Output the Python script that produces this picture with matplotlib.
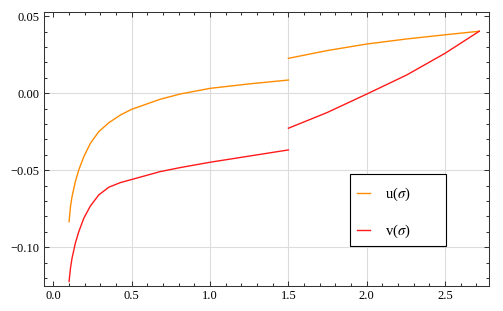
import matplotlib.pyplot as plt
from matplotlib.ticker import MultipleLocator
from matplotlib.patches import Rectangle

plt.rcParams['font.family'] = ['Liberation Serif', 'DejaVu Serif']
plt.rcParams['mathtext.fontset'] = 'stix'

# values
u_left_x = [0.1, 0.109, 0.119, 0.140, 0.162, 0.194, 0.236, 0.29, 0.354, 0.428, 0.5,
            0.681, 0.808, 1.0, 1.25, 1.5]
u_left_y = [-0.0834, -0.0736, -0.0671, -0.0574, -0.0498, -0.0412, -0.0325, -0.0249,
            -0.0191, -0.0141, -0.0104, -0.0039, -0.0005, 0.0032, 0.0061, 0.0086]
v_left_x = u_left_x
v_left_y = [-0.1223, -0.1136, -0.1071, -0.0974, -0.0899, -0.0812, -0.0732, -0.066,
            -0.061, -0.058, -0.0560, -0.0509, -0.0483, -0.0448, -0.0408, -0.0368]

right_x = [1.5, 1.745, 2.0, 2.255, 2.5, 2.718]
u_right_y = [0.0227, 0.0277, 0.032, 0.0353, 0.038, 0.0403]
v_right_y = [-0.0227, -0.0126, -0.0005, 0.0119, 0.026, 0.0403]

xticks = [0.0, 0.5, 1.0, 1.5, 2.0, 2.5]
xtick_labels = ['0.0', '0.5', '1.0', '1.5', '2.0', '2.5']
yticks = [-0.10, -0.05, 0.00, 0.05]
ytick_labels = ['\u22120.10', '\u22120.05', '0.00', '0.05']
grid_x = [0.5, 1.0, 1.5, 2.0, 2.5]
grid_y = [-0.10, -0.05, 0.00]

orange = '#ff8c00'
red = '#ff1a1a'

fig = plt.figure(figsize=(5.03, 3.11), dpi=100)
ax = fig.add_axes([44 / 503, 1 - 286 / 311, 445 / 503, 274 / 311])

for gx in grid_x:
    ax.axvline(gx, color='#dcdcdc', lw=0.8, zorder=0.5)
for gy in grid_y:
    ax.axhline(gy, color='#dcdcdc', lw=0.8, zorder=0.5)

ax.plot(u_left_x, u_left_y, color=orange, lw=1.0, label='u($\\sigma$)')
ax.plot(right_x, u_right_y, color=orange, lw=1.0)
ax.plot(v_left_x, v_left_y, color=red, lw=1.0, label='v($\\sigma$)')
ax.plot(right_x, v_right_y, color=red, lw=1.0)

ax.set_xlim(-0.06, 2.78)
ax.set_ylim(-0.1252, 0.0528)

ax.set_xticks(xticks)
ax.set_xticklabels(xtick_labels)
ax.set_yticks(yticks)
ax.set_yticklabels(ytick_labels)
ax.xaxis.set_minor_locator(MultipleLocator(0.1))
ax.yaxis.set_minor_locator(MultipleLocator(0.01))

ax.tick_params(which='both', direction='in', top=True, right=True,
               color='#333333', width=0.75)
ax.tick_params(which='major', length=3.6, labelsize=9, pad=3)
ax.tick_params(which='minor', length=2.0)
for s in ax.spines.values():
    s.set_color('#333333')
    s.set_linewidth(0.75)

# legend box
box = Rectangle((350 / 503, 1 - 246 / 311), 95.7 / 503, 71.7 / 311,
                transform=fig.transFigure, facecolor='white', edgecolor='black',
                lw=0.8, zorder=4)
ax.add_patch(box)
ax.legend(loc='upper left', bbox_to_anchor=(357 / 503, 1 - 186 / 311),
          bbox_transform=fig.transFigure, borderaxespad=0, borderpad=0,
          fontsize=10.5, frameon=False, handlelength=0.9, handletextpad=1.0,
          labelspacing=1.33)

fig.savefig('out.png', dpi=100)
